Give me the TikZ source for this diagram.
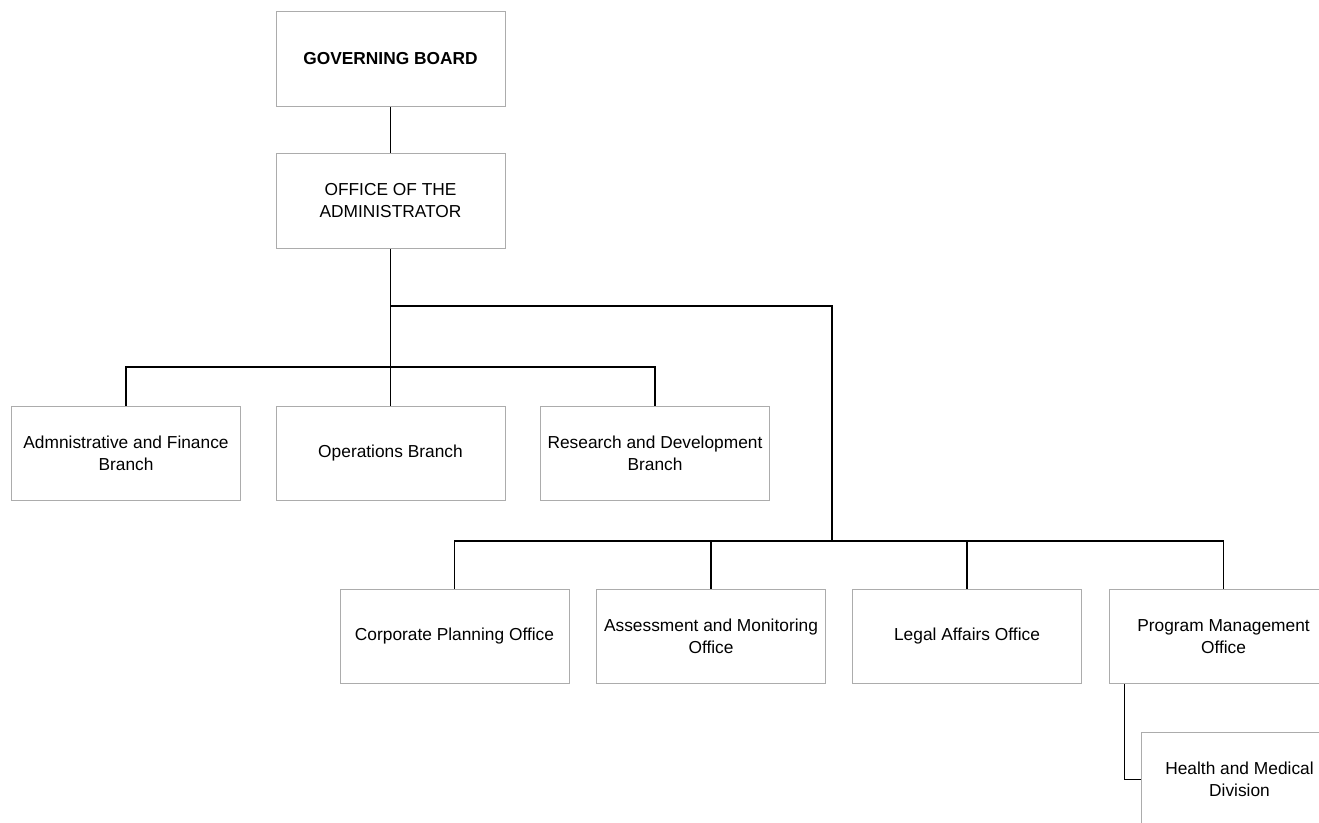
\documentclass[tikz,border=0pt]{standalone}
\usepackage{fontspec}
\setmainfont{Liberation Sans}

\begin{document}
\begin{tikzpicture}[x=0.75pt,y=-0.75pt,
    unit/.style={draw=gray!65, line width=0.75pt, minimum width=171.75pt, minimum height=71pt,
      align=center, inner sep=2pt, font=\fontsize{13}{16.5}\selectfont},
    link/.style={draw=black, line width=0.8pt}]

    % Page frame (the right column runs off the page)
    \useasboundingbox (0,0) rectangle (1319,822);
    \clip (0,0) rectangle (1319,822);

    % Top of the chart
    \node[unit, font=\bfseries\fontsize{13}{16.5}\selectfont] (board) at (390.5,59) {GOVERNING BOARD};
    \node[unit] (office) at (390.5,201) {OFFICE OF THE\\ADMINISTRATOR};

    % Branches
    \node[unit] (admin) at (126,453.5) {Admnistrative and Finance\\Branch};
    \node[unit] (ops) at (390.5,453.5) {Operations Branch};
    \node[unit] (rnd) at (655,453.5) {Research and Development\\Branch};

    % Offices
    \node[unit] (corp) at (454.5,636.5) {Corporate Planning Office};
    \node[unit] (assess) at (711,636.5) {Assessment and Monitoring\\Office};
    \node[unit] (legal) at (967,636.5) {Legal Affairs Office};
    \node[unit] (prog) at (1223.5,636.5) {Program Management\\Office};

    % Division below the program office
    \node[unit, minimum width=147.75pt] (health) at (1239.5,779.5) {Health and Medical\\Division};

    % Junction points of the bus lines
    \coordinate (fork) at (390.5,306);
    \coordinate (bus1) at (390.5,367);
    \coordinate (bus2) at (832,541);

    % Connectors
    \draw[link] (board) -- (office);
    \draw[link] (office) -- (ops);
    \draw[link] (admin.north) |- (bus1) -| (rnd.north);
    \draw[link] (fork) -| (bus2);
    \draw[link] (corp.north) |- (bus2) -| (prog.north);
    \draw[link] (assess.north) -- (assess.north |- bus2);
    \draw[link] (legal.north) -- (legal.north |- bus2);
    \draw[link] ([xshift=12pt]prog.south west) |- (health.west);

\end{tikzpicture}
\end{document}
